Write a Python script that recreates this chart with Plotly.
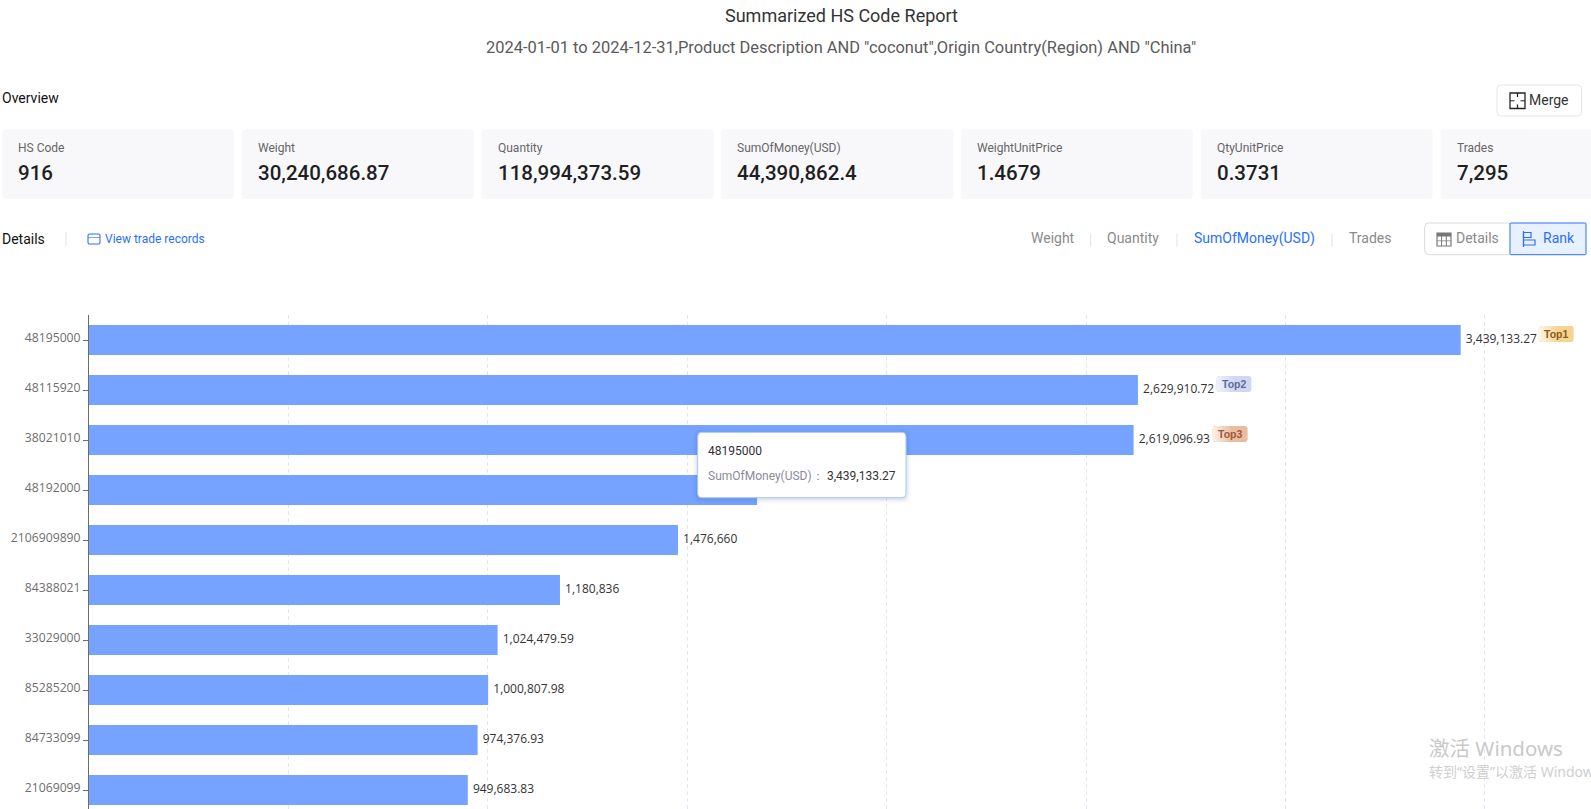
import plotly.graph_objects as go

W, H = 1591, 809

# ---------- data ----------
hs_codes = ["48195000", "48115920", "38021010", "48192000", "2106909890",
            "84388021", "33029000", "85285200", "84733099", "21069099"]
money_values = [3439133.27, 2629910.72, 2619096.93, 1675000, 1476660,
                1180836, 1024479.59, 1000807.98, 974376.93, 949683.83]
# the fourth bar's label lies behind the tooltip in the reference, so it is left blank
money_labels = ["3,439,133.27", "2,629,910.72", "2,619,096.93", "", "1,476,660",
                "1,180,836", "1,024,479.59", "1,000,807.98", "974,376.93", "949,683.83"]
card_names = ["HS Code", "Weight", "Quantity", "SumOfMoney(USD)", "WeightUnitPrice", "QtyUnitPrice", "Trades"]
card_values = ["916", "30,240,686.87", "118,994,373.59", "44,390,862.4", "1.4679", "0.3731", "7,295"]
grid_ticks = [500000, 1000000, 1500000, 2000000, 2500000, 3000000, 3500000]

# ---------- layout constants ----------
AX_L, AX_T = 89, 315
PX_PER_UNIT = 398.85e-6
X_MAX = (W - AX_L) / PX_PER_UNIT
Y_END = (H - AX_T) / 50 - 0.5
FONT = "Roboto"
BLUE = "#2a6fff"

def px(x): return x / W
def py(y): return 1 - y / H
def x_of(v): return AX_L + v * PX_PER_UNIT

shapes, annos = [], []

def rrect(x0, y0, x1, y1, r=4, fill="white", line=None, lw=1, layer="below"):
    X0, X1, Y0, Y1 = px(x0), px(x1), py(y0), py(y1)
    rx, ry = r / W, r / H
    p = (f"M{X0+rx},{Y0} L{X1-rx},{Y0} Q{X1},{Y0} {X1},{Y0-ry} L{X1},{Y1+ry} Q{X1},{Y1} {X1-rx},{Y1} "
         f"L{X0+rx},{Y1} Q{X0},{Y1} {X0},{Y1+ry} L{X0},{Y0-ry} Q{X0},{Y0} {X0+rx},{Y0} Z")
    shapes.append(dict(type="path", path=p, xref="paper", yref="paper", fillcolor=fill,
                       line=dict(color=line or "rgba(0,0,0,0)", width=lw if line else 0), layer=layer))

def rect(x0, y0, x1, y1, fill=None, line=None, lw=1, layer="above"):
    shapes.append(dict(type="rect", xref="paper", yref="paper", x0=px(x0), x1=px(x1), y0=py(y0), y1=py(y1),
                       fillcolor=fill or "rgba(0,0,0,0)",
                       line=dict(color=line or "rgba(0,0,0,0)", width=lw if line else 0), layer=layer))

def vline(x, y0, y1, color="#dfe1e6", lw=1):
    shapes.append(dict(type="line", xref="paper", yref="paper", x0=px(x), x1=px(x), y0=py(y0), y1=py(y1),
                       line=dict(color=color, width=lw), layer="above"))

def text(x, y, s, size=12, color="#333", anchor="left", weight=400, family=FONT):
    annos.append(dict(xref="paper", yref="paper", x=px(x), y=py(y), text=s, showarrow=False,
                      xanchor=anchor, yanchor="middle", align=anchor,
                      font=dict(size=size, color=color, family=family, weight=weight),
                      borderpad=0, borderwidth=0))

# ---------- header ----------
text(841, 15.5, "Summarized HS Code Report", 18, "#333", "center")
text(841, 47, '2024-01-01 to 2024-12-31,Product Description AND "coconut",Origin Country(Region) AND "China"',
     16.45, "#5a5a5a", "center")
text(2, 97.5, "Overview", 14, "#111")

# merge button
rrect(1497, 85, 1581.5, 116, 4, "white", "#e3e5ea")
rect(1510, 93, 1525, 108.5, None, "#222", 1.3)
vline(1517.5, 93, 97, "#222", 1.3)
vline(1517.5, 104.5, 108.5, "#222", 1.3)
rect(1510, 100.3, 1514.5, 101.3, "#222")
rect(1520.5, 100.3, 1525, 101.3, "#222")
text(1529, 99.5, "Merge", 14, "#333")

# cards
for i, (n, v) in enumerate(zip(card_names, card_values)):
    x0 = 2 + 239.75 * i
    rrect(x0, 129.3, min(x0 + 232, W + 6), 199, 4, "#f8f8fb")
    text(x0 + 16, 148.3, n, 12, "#666")
    text(x0 + 16, 173, v, 20.5, "#1f1f1f", weight=500)

# details row
text(2, 238.5, "Details", 14, "#111")
vline(66, 232, 246)
rrect(88, 234, 100, 244, 1.5, "white", BLUE, 1.1)
rect(88, 237.2, 100, 237.8, BLUE)
text(105, 238.7, "View trade records", 12, BLUE)

for s, x, c in [("Weight", 1031, "#8a8a8a"), ("Quantity", 1107, "#8a8a8a"),
                ("SumOfMoney(USD)", 1194, BLUE), ("Trades", 1349, "#8a8a8a")]:
    text(x, 238, s, 14, c)
for x in (1090.6, 1177, 1332):
    vline(x, 234, 246.7)

rrect(1424.6, 223, 1512, 254.7, 4, "white", "#d9dbe0")
rrect(1510, 223, 1586, 254.7, 1, "#e8f1ff", BLUE)
rect(1437, 233, 1451, 246, None, "#777", 1.2)
rect(1437, 233, 1451, 236.5, "#777")
for xx in (1441.6, 1446.3):
    vline(xx, 233, 246, "#777")
rect(1437, 240.5, 1451, 241.2, "#777")
text(1456, 238, "Details", 14, "#8a8a8a")
vline(1523.5, 231, 247, BLUE, 1.2)
rect(1523.5, 232.5, 1531, 237.5, None, BLUE, 1.2)
rect(1523.5, 240, 1535, 245, None, BLUE, 1.2)
text(1543, 238, "Rank", 14, BLUE)

# rank badges, placed from the same values as the bars
badges = [("Top1", 0, 78, "#fef6e6", "#f8d491", "#8a5a20"),
          ("Top2", 1, 78.5, "#eef1fd", "#d0d7f0", "#5f6b9e"),
          ("Top3", 2, 79, "#fbf0e8", "#e9bda2", "#a0573a")]

def mix(a, b, t):
    ca = [int(a[k:k + 2], 16) for k in (1, 3, 5)]
    cb = [int(b[k:k + 2], 16) for k in (1, 3, 5)]
    return "rgb(" + ",".join(str(round(p + (q - p) * t)) for p, q in zip(ca, cb)) + ")"

for name, idx, off, c0, c1, tc in badges:
    bx = x_of(money_values[idx]) + off
    by = 326 + 50 * idx
    n = 14
    w = 35 / n
    rrect(bx, by, bx + 35, by + 16, 3, c1, layer="above")
    for k in range(n - 1):
        rect(bx + k * w, by + (1 if k == 0 else 0), bx + (k + 1) * w + 0.3, by + 16 - (1 if k == 0 else 0), mix(c0, c1, min(1, k / 7)))
    text(bx + 17.5, by + 8, name, 10.5, tc, "center", weight=700, family="Liberation Sans")

# tooltip
for g, a in ((5, 0.03), (3, 0.05), (1.5, 0.07)):
    rrect(697.7 - g, 432.3 - g + 1, 906 + g, 497.7 + g + 1, 5 + g, f"rgba(60,80,130,{a})", layer="above")
rrect(697.7, 432.3, 906, 497.7, 4, "white", "#a9c4f5", 1, layer="above")
text(708, 451, hs_codes[0], 12, "#2f2f3a")
text(708, 476, "SumOfMoney(USD)：", 12, "#8b8b9b")
text(896, 476, money_labels[0], 12, "#333", "right")

# watermark
wm = "Noto Sans, Noto Sans CJK SC"
text(1429, 748, "激活 Windows", 20.5, "#c9c9c9", family=wm)
text(1429, 771, "转到“设置”以激活 Windows", 14, "#cfcfcf", family=wm)

# ---------- chart ----------
fig = go.Figure()
fig.add_trace(go.Bar(
    x=money_values, y=hs_codes, orientation="h", width=0.6,
    marker=dict(color="#75a3ff", line=dict(width=0)), hoverinfo="skip",
))
fig.add_trace(go.Scatter(
    x=money_values, y=hs_codes, mode="text", cliponaxis=False,
    text=["\u00a0\u2009" + s for s in money_labels], textposition="middle right",
    textfont=dict(family="Open Sans", size=12, color="#333"), hoverinfo="skip",
))
fig.update_layout(
    width=W, height=H, margin=dict(l=0, r=0, t=0, b=0, pad=0, autoexpand=False),
    paper_bgcolor="white", plot_bgcolor="white", showlegend=False,
    xaxis=dict(domain=[px(AX_L), 1], range=[0, X_MAX], tickvals=grid_ticks, showticklabels=False,
               showgrid=True, gridcolor="#e2e5f3", griddash="4px,3px", gridwidth=1, zeroline=False,
               showline=False, ticks=""),
    yaxis=dict(domain=[0, py(AX_T)], type="category", categoryorder="array", categoryarray=hs_codes,
               range=[Y_END, -0.5], showgrid=False, zeroline=False, showline=True, linecolor="#6b6b6b",
               linewidth=1, ticks="outside", ticklen=5, tickcolor="#6b6b6b", tickwidth=1,
               ticklabelshift=2,
               tickfont=dict(family="Open Sans", size=12.2, color="#6e6e6e")),
    shapes=shapes, annotations=annos,
)
fig.write_html("out.html", config={"displayModeBar": False},
               post_script="document.body.style.margin='0';document.body.style.overflow='hidden';")
